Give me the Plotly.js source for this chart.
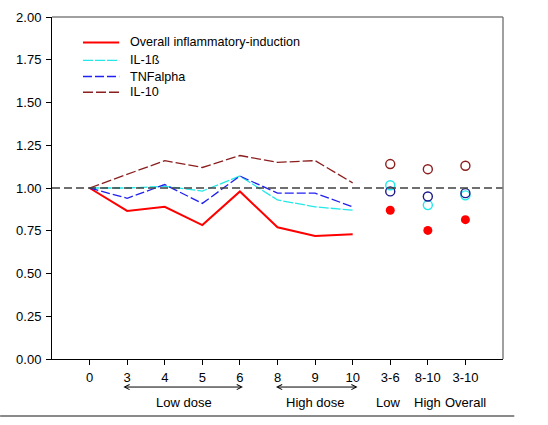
<!DOCTYPE html>
<html>
<head>
<meta charset="utf-8">
<script src="https://cdn.plot.ly/plotly-3.0.1.min.js"></script>
<style>html,body{margin:0;padding:0;background:#fff;}#chart{width:548px;height:425px;}</style>
</head>
<body>
<div id="chart"></div>
<script>
// Categories (x positions)
var categories = ['0','3','4','5','6','8','9','10','3-6','8-10','3-10'];
var lineCats = ['0','3','4','5','6','8','9','10'];
var summaryCats = ['3-6','8-10','3-10'];

// Series names
var seriesNames = ['Overall inflammatory-induction', 'IL-1ß', 'TNFalpha', 'IL-10'];

// Series values (time course)
var overall = [1.00, 0.866, 0.89, 0.783, 0.98, 0.77, 0.72, 0.73];
var il1b    = [1.00, 1.00, 1.01, 0.982, 1.07, 0.93, 0.89, 0.87];
var tnf     = [1.00, 0.94, 1.02, 0.91, 1.07, 0.97, 0.97, 0.89];
var il10    = [1.00, 1.08, 1.16, 1.12, 1.19, 1.15, 1.16, 1.03];

// Summary points (Low, High, Overall)
var overallSum = [0.87, 0.752, 0.815];
var il1bSum    = [1.016, 0.90, 0.957];
var tnfSum     = [0.98, 0.95, 0.97];
var il10Sum    = [1.14, 1.11, 1.13];

// Y tick labels
var yTicks = [0, 0.25, 0.5, 0.75, 1.0, 1.25, 1.5, 1.75, 2.0];
var yTickText = ['0.00','0.25','0.50','0.75','1.00','1.25','1.50','1.75','2.00'];

// Group labels under the x axis
var groupLabels = ['Low dose', 'High dose', 'Low', 'High', 'Overall'];

var cRed = '#FF0000', cCyan = '#22E8E8', cBlue = '#2020F0', cBrown = '#8B1E1E', cNavy = '#1A1A8C';
var seriesStyles = [
  {color: cRed, width: 2, dash: 'solid'},
  {color: cCyan, width: 1.3, dash: '10px,2px'},
  {color: cBlue, width: 1.3, dash: '9px,3px'},
  {color: cBrown, width: 1.3, dash: '10px,3px'}
];
var lineData = [overall, il1b, tnf, il10];

var traces = [];
for (var i = 0; i < lineData.length; i++) {
  traces.push({x: lineCats, y: lineData[i], mode: 'lines', name: seriesNames[i],
    showlegend: false, line: seriesStyles[i]});
}
traces.push(
  {x: summaryCats, y: il10Sum, mode: 'markers', showlegend: false, name: seriesNames[3],
   marker: {symbol: 'circle-open', size: 9, color: cBrown, line: {width: 1.4}}},
  {x: summaryCats, y: il1bSum, mode: 'markers', showlegend: false, name: seriesNames[1],
   marker: {symbol: 'circle-open', size: 9, color: cCyan, line: {width: 1.4}}},
  {x: summaryCats, y: tnfSum, mode: 'markers', showlegend: false, name: seriesNames[2],
   marker: {symbol: 'circle-open', size: 9, color: cNavy, line: {width: 1.4}}},
  {x: summaryCats, y: overallSum, mode: 'markers', showlegend: false, name: seriesNames[0],
   marker: {symbol: 'circle', size: 9, color: cRed}}
);

var fontFam = 'Liberation Sans, Arial, sans-serif';

var shapes = [
  {type: 'line', xref: 'paper', yref: 'y', x0: 0, x1: 1, y0: 1, y1: 1,
   line: {color: '#404040', width: 1.3, dash: '8px,4px'}},
  {type: 'line', xref: 'paper', yref: 'paper', x0: 0, x1: 1, y0: 1, y1: 1,
   line: {color: '#808080', width: 1.3}},
  {type: 'line', xref: 'paper', yref: 'paper', x0: 1, x1: 1, y0: 0, y1: 1,
   line: {color: '#808080', width: 1.5}},
  {type: 'line', xref: 'paper', yref: 'paper', x0: -0.115, x1: 1.025, y0: -0.167, y1: -0.167,
   line: {color: '#8a8a8a', width: 2}}
];
var annotations = [];

// Hand-built legend (tighter row spacing than Plotly's native legend)
var legRows = [0.9256, 0.873, 0.826, 0.780];
for (var k = 0; k < seriesNames.length; k++) {
  shapes.push({type: 'line', xref: 'paper', yref: 'paper', x0: 0.0687, x1: 0.149,
    y0: legRows[k], y1: legRows[k], line: seriesStyles[k]});
  annotations.push({xref: 'paper', yref: 'paper', x: 0.1685, y: legRows[k],
    xanchor: 'left', yanchor: 'middle', text: seriesNames[k], showarrow: false,
    font: {size: 12.6}});
}

// Dose range arrows
var arrowSpans = [[0.86, 4.08], [4.92, 7.13]];
arrowSpans.forEach(function (s) {
  annotations.push({xref: 'x', yref: 'paper', x: s[1], y: -0.082, axref: 'x', ayref: 'pixel',
    ax: s[0], ay: 0, showarrow: true, arrowside: 'end+start', arrowhead: 5, startarrowhead: 5,
    arrowsize: 1, startarrowsize: 1, arrowwidth: 1, arrowcolor: '#000', text: '',
    standoff: 0, startstandoff: 0});
});
var groupX = [2.52, 6.0, 7.94, 8.98, 9.99];
for (var g = 0; g < groupLabels.length; g++) {
  annotations.push({xref: 'x', yref: 'paper', x: groupX[g], y: -0.126, yanchor: 'middle',
    xanchor: 'center', text: groupLabels[g], showarrow: false, font: {size: 13}});
}

var layout = {
  width: 548, height: 425,
  margin: {l: 52, r: 45, t: 17, b: 66},
  paper_bgcolor: '#fff', plot_bgcolor: '#fff',
  font: {family: fontFam, size: 13, color: '#000'},
  showlegend: false,
  xaxis: {
    type: 'category', categoryorder: 'array', categoryarray: categories,
    range: [-1, 11], showgrid: false, zeroline: false,
    showline: true, linecolor: '#000', linewidth: 1,
    ticks: 'outside', ticklen: 5, tickcolor: '#000',
    ticklabelstandoff: 1,
    tickfont: {size: 13}
  },
  yaxis: {
    range: [0, 2], showgrid: false, zeroline: false,
    showline: true, linecolor: '#000', linewidth: 1,
    ticks: 'outside', ticklen: 5, tickcolor: '#000',
    ticklabelstandoff: 2,
    tickvals: yTicks, ticktext: yTickText, tickfont: {size: 13}
  },
  shapes: shapes,
  annotations: annotations
};

Plotly.newPlot('chart', traces, layout, {displayModeBar: false, staticPlot: true});
</script>
</body>
</html>
